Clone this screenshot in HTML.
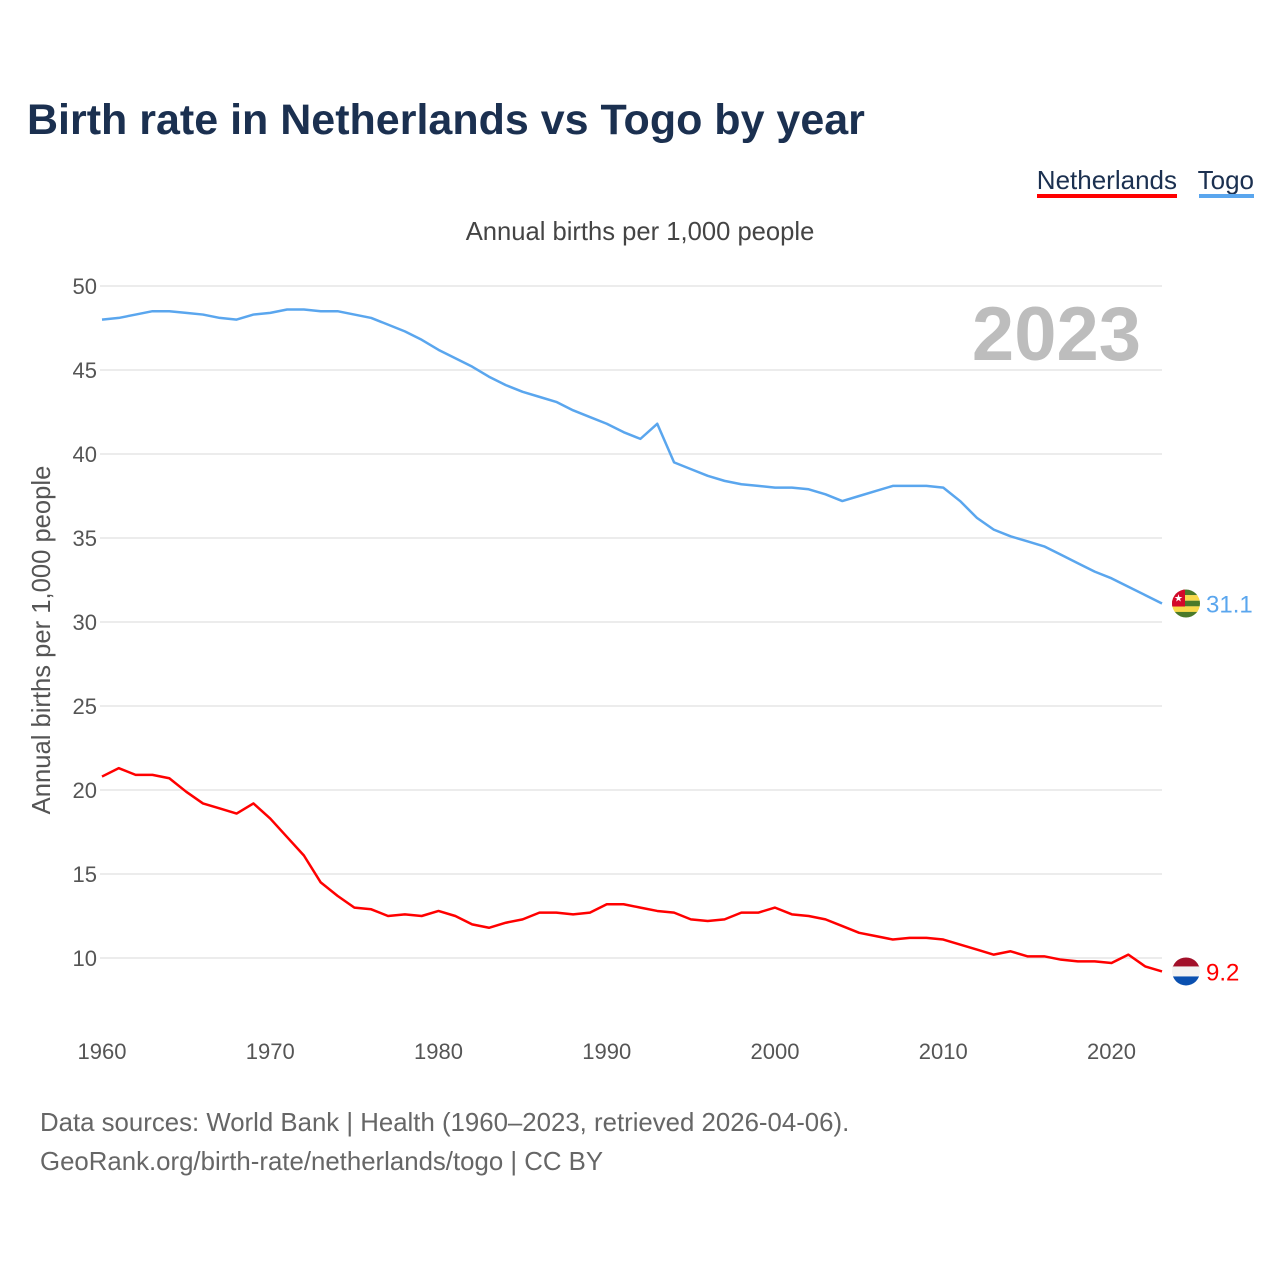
<!DOCTYPE html>
<html><head><meta charset="utf-8"><style>
body{margin:0;background:#fff;font-family:"Liberation Sans",sans-serif}
svg text{font-family:"Liberation Sans",sans-serif}
</style></head><body>
<svg width="1280" height="1280" viewBox="0 0 1280 1280" xmlns="http://www.w3.org/2000/svg">
<text x="27" y="134" font-size="43" font-weight="bold" fill="#1b3050">Birth rate in Netherlands vs Togo by year</text>
<g>
<text x="1177" y="189" font-size="26" fill="#1b3050" text-anchor="end">Netherlands</text>
<rect x="1037" y="194" width="140" height="4" fill="#ff0000"/>
<text x="1254" y="189" font-size="26" fill="#1b3050" text-anchor="end">Togo</text>
<rect x="1199" y="194" width="55" height="4" fill="#5aa6ee"/>
</g>
<text x="640" y="240" font-size="25.6" fill="#444" text-anchor="middle">Annual births per 1,000 people</text>
<text x="1141" y="360" font-size="76" font-weight="bold" fill="#bdbdbd" text-anchor="end">2023</text>
<text transform="translate(50,640) rotate(-90)" font-size="25.6" fill="#555" text-anchor="middle">Annual births per 1,000 people</text>
<g id="grid"></g><g id="lines"></g><g id="ends"></g>
<text x="40" y="1131" font-size="25.8" fill="#666">Data sources: World Bank | Health (1960–2023, retrieved 2026-04-06).</text>
<text x="40" y="1170" font-size="25.8" fill="#666">GeoRank.org/birth-rate/netherlands/togo | CC BY</text>
</svg>
<script>
const years=[];for(let y=1960;y<=2023;y++)years.push(y);
const togo=[48.0,48.1,48.3,48.5,48.5,48.4,48.3,48.1,48.0,48.3,48.4,48.6,48.6,48.5,48.5,48.3,48.1,47.7,47.3,46.8,46.2,45.7,45.2,44.6,44.1,43.7,43.4,43.1,42.6,42.2,41.8,41.3,40.9,41.8,39.5,39.1,38.7,38.4,38.2,38.1,38.0,38.0,37.9,37.6,37.2,37.5,37.8,38.1,38.1,38.1,38.0,37.2,36.2,35.5,35.1,34.8,34.5,34.0,33.5,33.0,32.6,32.1,31.6,31.1];
const netherlands=[20.8,21.3,20.9,20.9,20.7,19.9,19.2,18.9,18.6,19.2,18.3,17.2,16.1,14.5,13.7,13.0,12.9,12.5,12.6,12.5,12.8,12.5,12.0,11.8,12.1,12.3,12.7,12.7,12.6,12.7,13.2,13.2,13.0,12.8,12.7,12.3,12.2,12.3,12.7,12.7,13.0,12.6,12.5,12.3,11.9,11.5,11.3,11.1,11.2,11.2,11.1,10.8,10.5,10.2,10.4,10.1,10.1,9.9,9.8,9.8,9.7,10.2,9.5,9.2];
const yTicks=[10,15,20,25,30,35,40,45,50];
const xTicks=[1960,1970,1980,1990,2000,2010,2020];
const NS="http://www.w3.org/2000/svg";
const X=y=>102+(y-1960)*(1060/63);
const Y=v=>286+(50-v)*16.8;
function mk(t,a,p){const e=document.createElementNS(NS,t);for(const k in a)e.setAttribute(k,a[k]);p.appendChild(e);return e;}
const grid=document.getElementById('grid'),lines=document.getElementById('lines'),ends=document.getElementById('ends');
yTicks.forEach(v=>{
 const l=mk('line',{x1:100,x2:1162,y1:Y(v),y2:Y(v),stroke:'#e6e6e6','stroke-width':1.5},grid);
 
 
 const t=mk('text',{x:97,y:Y(v)+8,'font-size':22,fill:'#555','text-anchor':'end'},grid);t.textContent=v;
 
 
});
xTicks.forEach(v=>{
 const t=mk('text',{x:X(v),y:1059,'font-size':22,fill:'#555','text-anchor':'middle'},grid);t.textContent=v;
 
 
});
function series(data,color,name){
 const p=mk('polyline',{points:data.map((v,i)=>X(years[i])+','+Y(v)).join(' '),fill:'none',stroke:color,'stroke-width':2.5,'stroke-linejoin':'round'},lines);
 
 
 const last=data[data.length-1],ly=Y(last);
 const g=mk('g',{},ends);
 
 
 const cx=1186,r=14;
 const cp=mk('clipPath',{id:'c'+name},g);mk('circle',{cx:cx,cy:ly,r:r},cp);
 const f=mk('g',{'clip-path':'url(#c'+name+')'},g);
 if(name==='netherlands'){
  mk('rect',{x:cx-r,y:ly-r,width:28,height:10,fill:'#a2102a'},f);
  mk('rect',{x:cx-r,y:ly-r+9,width:28,height:10,fill:'#f3f3f3'},f);
  mk('rect',{x:cx-r,y:ly-r+19,width:28,height:10,fill:'#0a50b0'},f);
 }else{
  for(let i=0;i<5;i++)mk('rect',{x:cx-r,y:ly-r+i*5.6,width:28,height:5.7,fill:i%2?'#f8d94a':'#4a7a2a'},f);
  mk('rect',{x:cx-r,y:ly-r,width:13,height:17,fill:'#d4082a'},f);
  const s=mk('text',{x:cx-7.5,y:ly-2,'font-size':10,fill:'#fff','text-anchor':'middle'},f);s.textContent='★';
 }
 const t=mk('text',{x:1206,y:ly+9,'font-size':24,fill:color},g);t.textContent=last.toFixed(1);
 
 
}
series(togo,'#5aa6ee','togo');
series(netherlands,'#ff0000','netherlands');
</script>
</body></html>
